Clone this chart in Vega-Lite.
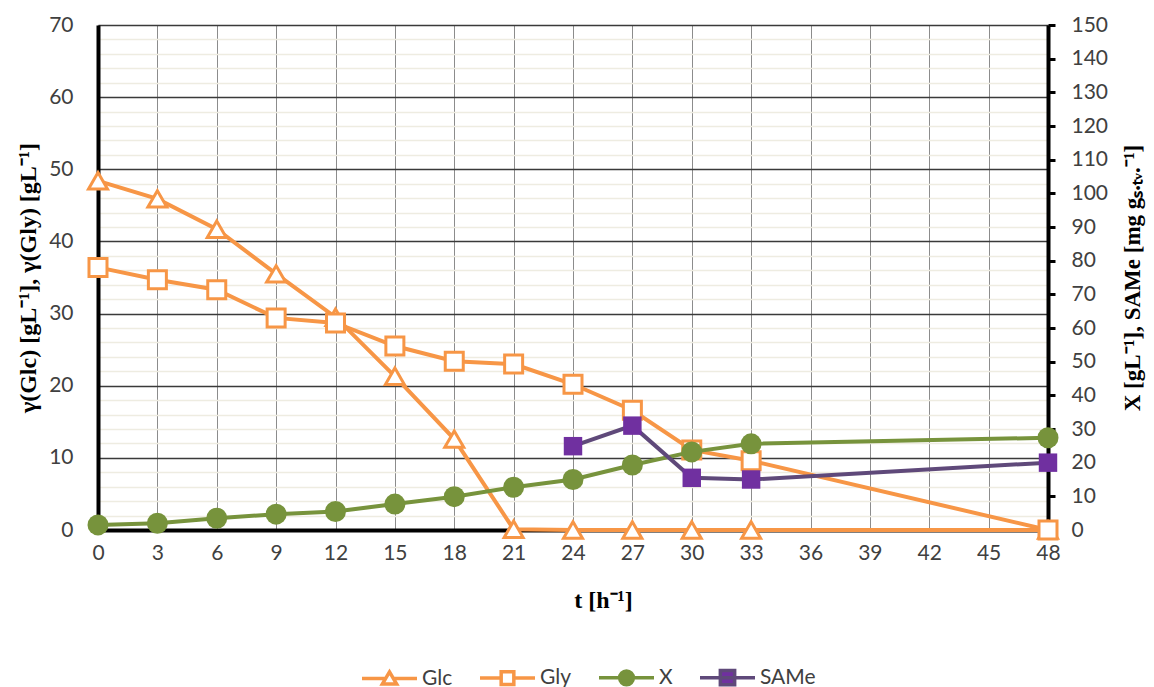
{
  "$schema": "https://vega.github.io/schema/vega-lite/v6.json",
  "width": 950,
  "height": 505,
  "autosize": {"type": "none"},
  "padding": {"left": 98, "top": 25, "right": 106, "bottom": 157},
  "background": "white",
  "config": {
    "view": {"stroke": null},
    "axis": {"labelFont": "Lato", "labelFontSize": 21, "labelColor": "#404040", "titleColor": "black", "titleFont": "Liberation Serif", "titleFontWeight": "bold"}
  },
  "datasets": {
    "d": [
      {"t": 0, "series": "Glc", "v": 48.4},
      {"t": 3, "series": "Glc", "v": 45.9},
      {"t": 6, "series": "Glc", "v": 41.7},
      {"t": 9, "series": "Glc", "v": 35.5},
      {"t": 12, "series": "Glc", "v": 29.5},
      {"t": 15, "series": "Glc", "v": 21.3},
      {"t": 18, "series": "Glc", "v": 12.6},
      {"t": 21, "series": "Glc", "v": 0.1},
      {"t": 24, "series": "Glc", "v": 0},
      {"t": 27, "series": "Glc", "v": 0},
      {"t": 30, "series": "Glc", "v": 0},
      {"t": 33, "series": "Glc", "v": 0},
      {"t": 48, "series": "Glc", "v": 0},
      {"t": 0, "series": "Gly", "v": 36.4},
      {"t": 3, "series": "Gly", "v": 34.7},
      {"t": 6, "series": "Gly", "v": 33.3},
      {"t": 9, "series": "Gly", "v": 29.4},
      {"t": 12, "series": "Gly", "v": 28.7},
      {"t": 15, "series": "Gly", "v": 25.5},
      {"t": 18, "series": "Gly", "v": 23.4},
      {"t": 21, "series": "Gly", "v": 23.0},
      {"t": 24, "series": "Gly", "v": 20.2},
      {"t": 27, "series": "Gly", "v": 16.6},
      {"t": 30, "series": "Gly", "v": 11.1},
      {"t": 33, "series": "Gly", "v": 9.6},
      {"t": 48, "series": "Gly", "v": 0},
      {"t": 0, "series": "X", "v": 1.5},
      {"t": 3, "series": "X", "v": 2.0},
      {"t": 6, "series": "X", "v": 3.5},
      {"t": 9, "series": "X", "v": 4.7},
      {"t": 12, "series": "X", "v": 5.5},
      {"t": 15, "series": "X", "v": 7.7},
      {"t": 18, "series": "X", "v": 9.9},
      {"t": 21, "series": "X", "v": 12.7},
      {"t": 24, "series": "X", "v": 15.0},
      {"t": 27, "series": "X", "v": 19.3},
      {"t": 30, "series": "X", "v": 23.2},
      {"t": 33, "series": "X", "v": 25.6},
      {"t": 48, "series": "X", "v": 27.4},
      {"t": 24, "series": "SAMe", "v": 24.9},
      {"t": 27, "series": "SAMe", "v": 31.0},
      {"t": 30, "series": "SAMe", "v": 15.5},
      {"t": 33, "series": "SAMe", "v": 15.0},
      {"t": 48, "series": "SAMe", "v": 20.0}
    ]
  },
  "data": {"name": "d"},
  "encoding": {
    "x": {
      "field": "t",
      "type": "quantitative",
      "scale": {"domain": [0, 48], "nice": false, "zero": false},
      "axis": {
        "values": [0, 3, 6, 9, 12, 15, 18, 21, 24, 27, 30, 33, 36, 39, 42, 45, 48],
        "grid": true, "gridColor": "#8C8C8C", "gridWidth": 1,
        "domain": true, "domainColor": "black", "domainWidth": 4,
        "ticks": false, "tickSize": 0, "labelPadding": 12,
        "labelFlush": false, "labelOverlap": false,
        "title": "t [h⁻¹]", "titleFontSize": 24, "titlePadding": 25, "titleX": 505
      }
    }
  },
  "layer": [
    {
      "transform": [{"filter": "datum.series == 'Glc' || datum.series == 'Gly'"}],
      "mark": {"type": "line", "strokeWidth": 4},
      "encoding": {
        "y": {
          "field": "v", "type": "quantitative",
          "scale": {"domain": [0, 70], "nice": false},
          "axis": {
            "orient": "left",
            "values": [2, 4, 6, 8, 12, 14, 16, 18, 22, 24, 26, 28, 32, 34, 36, 38, 42, 44, 46, 48, 52, 54, 56, 58, 62, 64, 66, 68],
            "grid": true, "gridColor": "#EEECE1", "gridWidth": 1.5,
            "labels": false, "ticks": false, "domain": false, "title": null
          }
        },
        "color": {"field": "series", "type": "nominal", "scale": {"domain": ["Glc", "Gly"], "range": ["#F79646", "#F79646"]}, "legend": null}
      }
    },
    {
      "transform": [{"filter": "datum.series == 'Glc' || datum.series == 'Gly'"}],
      "mark": {"type": "point", "fill": "white", "stroke": "#F79646", "strokeWidth": 3, "opacity": 1},
      "encoding": {
        "y": {
          "field": "v", "type": "quantitative",
          "scale": {"domain": [0, 70], "nice": false},
          "axis": {
            "orient": "left",
            "values": [0, 10, 20, 30, 40, 50, 60, 70],
            "grid": true, "gridColor": "#3A3A3A", "gridWidth": 1.3,
            "domain": true, "domainColor": "black", "domainWidth": 4,
            "ticks": false, "tickSize": 0, "labelPadding": 25,
            "title": "γ(Glc)  [gL⁻¹], γ(Gly) [gL⁻¹]", "titleFontSize": 24, "titlePadding": 8
          }
        },
        "shape": {"field": "series", "type": "nominal", "scale": {"domain": ["Glc", "Gly"], "range": ["triangle-up", "square"]}, "legend": null},
        "size": {"field": "series", "type": "ordinal", "scale": {"domain": ["Glc", "Gly"], "range": [360, 324]}, "legend": null}
      }
    },
    {
      "transform": [{"filter": "datum.series == 'X' || datum.series == 'SAMe'"}],
      "mark": {"type": "line", "strokeWidth": 4},
      "encoding": {
        "y": {
          "field": "v", "type": "quantitative",
          "scale": {"domain": [0, 150], "nice": false},
          "axis": {
            "orient": "right",
            "values": [0, 10, 20, 30, 40, 50, 60, 70, 80, 90, 100, 110, 120, 130, 140, 150],
            "grid": false,
            "domain": true, "domainColor": "black", "domainWidth": 4,
            "ticks": true, "tickColor": "black", "tickWidth": 3, "tickSize": 7, "labelPadding": 16,
            "title": "X [gL⁻¹], SAMe [mg gₛ.ₜᵥ.⁻¹]", "titleFontSize": 23, "titlePadding": 14,
            "titleAngle": -90, "titleBaseline": "top"
          }
        },
        "color": {"field": "series", "type": "nominal", "scale": {"domain": ["X", "SAMe"], "range": ["#77933C", "#5F497A"]}, "legend": null}
      }
    },
    {
      "transform": [{"filter": "datum.series == 'X' || datum.series == 'SAMe'"}],
      "mark": {"type": "point", "strokeWidth": 2, "opacity": 1, "filled": true},
      "encoding": {
        "y": {"field": "v", "type": "quantitative", "scale": {"domain": [0, 150], "nice": false}, "axis": null},
        "color": {"field": "series", "type": "nominal", "scale": {"domain": ["X", "SAMe"], "range": ["#77933C", "#7030A0"]}, "legend": null},
        "shape": {"field": "series", "type": "nominal", "scale": {"domain": ["X", "SAMe"], "range": ["circle", "square"]}, "legend": null},
        "size": {"field": "series", "type": "ordinal", "scale": {"domain": ["X", "SAMe"], "range": [441, 340]}, "legend": null}
      }
    },
    {
      "transform": [{"filter": "datum.t < 0"}],
      "mark": {"type": "point", "strokeWidth": 3.5, "opacity": 1},
      "encoding": {
        "color": {
          "field": "series", "type": "nominal",
          "scale": {"domain": ["Glc", "Gly", "X", "SAMe"], "range": ["#F79646", "#F79646", "#77933C", "#5F497A"]},
          "legend": {"orient": "none", "legendX": 262, "legendY": 623, "direction": "horizontal", "title": null, "symbolSize": 3025, "symbolStrokeWidth": 3.5, "labelFont": "Lato", "labelFontSize": 21, "labelColor": "#404040", "columnPadding": 20, "labelOffset": 3}
        },
        "fill": {
          "field": "series", "type": "nominal",
          "scale": {"domain": ["Glc", "Gly", "X", "SAMe"], "range": ["white", "white", "#77933C", "#7030A0"]},
          "legend": {"orient": "none", "legendX": 262, "legendY": 623, "direction": "horizontal", "title": null, "symbolSize": 3025, "symbolStrokeWidth": 3.5, "labelFont": "Lato", "labelFontSize": 21, "labelColor": "#404040", "columnPadding": 20, "labelOffset": 3}
        },
        "shape": {
          "field": "series", "type": "nominal",
          "scale": {"domain": ["Glc", "Gly", "X", "SAMe"], "range": [
            "M-1,0H-0.13M0.13,0H1M0,-0.24L0.26,0.2L-0.26,0.2Z",
            "M-1,0H-0.23M0.23,0H1M-0.23,-0.23H0.23V0.23H-0.23Z",
            "M-1,0H1M-0.25,0A0.25,0.25,0,1,0,0.25,0A0.25,0.25,0,1,0,-0.25,0Z",
            "M-1,0H1M-0.26,-0.26H0.26V0.26H-0.26Z"
          ]},
          "legend": {"orient": "none", "legendX": 262, "legendY": 623, "direction": "horizontal", "title": null, "symbolSize": 3025, "symbolStrokeWidth": 3.5, "labelFont": "Lato", "labelFontSize": 21, "labelColor": "#404040", "columnPadding": 20, "labelOffset": 3}
        }
      }
    }
  ],
  "resolve": {
    "scale": {"y": "independent", "color": "independent", "fill": "independent", "shape": "independent", "size": "independent"},
    "axis": {"y": "independent"}
  }
}
